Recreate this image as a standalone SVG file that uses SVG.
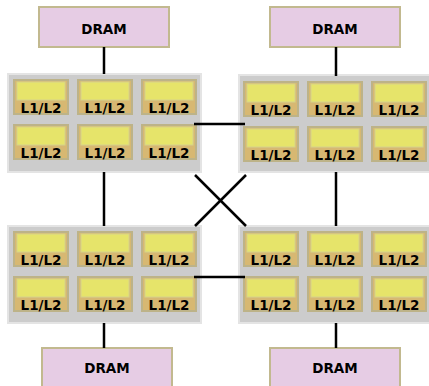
<svg xmlns="http://www.w3.org/2000/svg" width="429" height="386" viewBox="0 0 429 386">
<defs>
<style>
.dram{fill:#e6cce4;stroke:#c2b98f;stroke-width:2}
.panel{fill:#cccccc;stroke:#e4e4e4;stroke-width:2}
.core{fill:#d7b872;stroke:#bdb388;stroke-width:2}
.cache{fill:#e6e46a;stroke:#d6d28c;stroke-width:1}
.t{font-family:"DejaVu Sans",sans-serif;font-weight:bold;font-size:13.5px;fill:#000;text-anchor:middle}
.c{stroke:#000;stroke-width:2.5;fill:none}
</style>
<g id="coreTpl">
<rect class="core" x="0" y="0" width="54" height="34"/>
<rect class="cache" x="3" y="2" width="48" height="18"/>
<text class="t" x="27" y="32.5">L1/L2</text>
</g>
</defs>
<rect width="429" height="386" fill="#ffffff"/>
<g id="dram-tl"><rect class="dram" x="39" y="7" width="130" height="40"/><text class="t" x="104" y="34">DRAM</text></g>
<g id="dram-tr"><rect class="dram" x="270" y="7" width="130" height="40"/><text class="t" x="335" y="34">DRAM</text></g>
<g id="dram-bl"><rect class="dram" x="42" y="348" width="130" height="44"/><text class="t" x="107" y="373">DRAM</text></g>
<g id="dram-br"><rect class="dram" x="270" y="348" width="130" height="44"/><text class="t" x="335" y="373">DRAM</text></g>
<g id="node-tl">
<rect class="panel" x="8" y="74" width="193" height="98"/>
<use href="#coreTpl" x="14" y="80"/><use href="#coreTpl" x="78" y="80"/><use href="#coreTpl" x="142" y="80"/>
<use href="#coreTpl" x="14" y="125"/><use href="#coreTpl" x="78" y="125"/><use href="#coreTpl" x="142" y="125"/>
</g>
<g id="node-tr">
<rect class="panel" x="239" y="75" width="195" height="97"/>
<use href="#coreTpl" x="244" y="82"/><use href="#coreTpl" x="308" y="82"/><use href="#coreTpl" x="372" y="82"/>
<use href="#coreTpl" x="244" y="127"/><use href="#coreTpl" x="308" y="127"/><use href="#coreTpl" x="372" y="127"/>
</g>
<g id="node-bl">
<rect class="panel" x="8" y="226" width="193" height="97"/>
<use href="#coreTpl" x="14" y="232"/><use href="#coreTpl" x="78" y="232"/><use href="#coreTpl" x="142" y="232"/>
<use href="#coreTpl" x="14" y="277"/><use href="#coreTpl" x="78" y="277"/><use href="#coreTpl" x="142" y="277"/>
</g>
<g id="node-br">
<rect class="panel" x="239" y="226" width="195" height="97"/>
<use href="#coreTpl" x="244" y="232"/><use href="#coreTpl" x="308" y="232"/><use href="#coreTpl" x="372" y="232"/>
<use href="#coreTpl" x="244" y="277"/><use href="#coreTpl" x="308" y="277"/><use href="#coreTpl" x="372" y="277"/>
</g>
<g id="connectors">
<line class="c" x1="104" y1="47" x2="104" y2="74"/>
<line class="c" x1="336" y1="47" x2="336" y2="76"/>
<line class="c" x1="104" y1="172" x2="104" y2="226"/>
<line class="c" x1="336" y1="172" x2="336" y2="226"/>
<line class="c" x1="104" y1="323" x2="104" y2="348"/>
<line class="c" x1="336" y1="323" x2="336" y2="348"/>
<line class="c" x1="194" y1="124" x2="245" y2="124"/>
<line class="c" x1="194" y1="277" x2="245" y2="277"/>
<line class="c" x1="195" y1="175" x2="246" y2="226"/>
<line class="c" x1="246" y1="175" x2="195" y2="226"/>
</g>
</svg>
